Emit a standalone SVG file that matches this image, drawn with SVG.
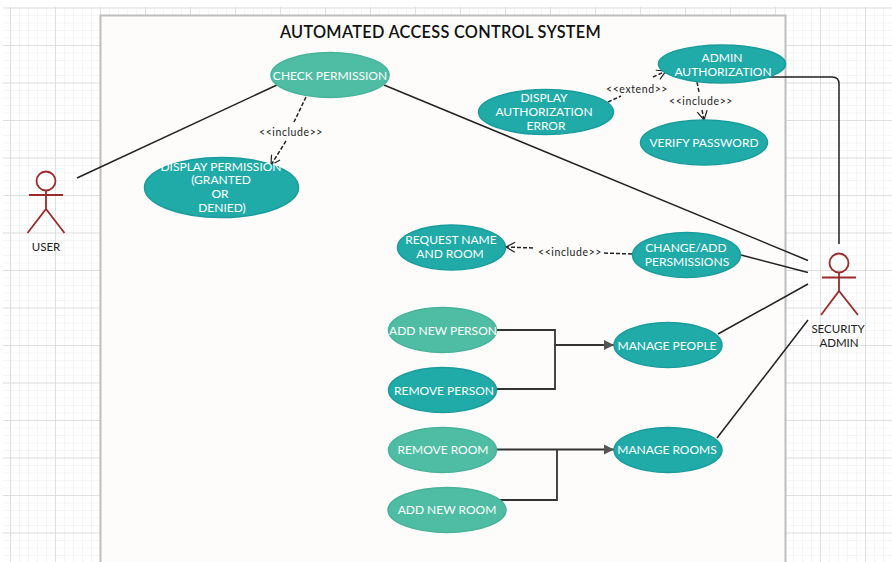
<svg xmlns="http://www.w3.org/2000/svg" width="892" height="562" viewBox="0 0 892 562">
<style>
text{font-family:Lato,"Open Sans","Liberation Sans",sans-serif;text-anchor:middle}
.l{fill:#4fbda3;stroke:#46b39a;stroke-width:1.5}
.d{fill:#20aba9;stroke:#1a9c9c;stroke-width:1.5}
.u{fill:#fff;font-size:12px}
.c{fill:none;stroke:#222;stroke-width:1.5}
.h{fill:none;stroke:#222;stroke-width:1.5;stroke-dasharray:4 2}
.e{fill:none;stroke:#333;stroke-width:1.8}
.a{fill:none;stroke:#9c2a2a;stroke-width:1.8}
.t{fill:#222;font-size:11.500px}
.s{fill:#222;font-size:10.500px;letter-spacing:.6px}
</style>
<defs>
<pattern id="minor" x="10" y="7.500" width="9" height="7.500" patternUnits="userSpaceOnUse"><path d="M0 0V7.500M0 0H9" fill="none" stroke="#ececec" stroke-width="1"/></pattern>
<pattern id="major" x="10" y="7.500" width="45" height="37.500" patternUnits="userSpaceOnUse"><path d="M0 0V37.500M0 0H45" fill="none" stroke="#d8d8d8" stroke-width="1.500"/></pattern>
<marker id="open" markerWidth="12" markerHeight="12" refX="10" refY="6" orient="auto" markerUnits="userSpaceOnUse"><path d="M1 1L10 6L1 11" fill="none" stroke="#222" stroke-width="1.200"/></marker>
<marker id="solid" markerWidth="11" markerHeight="12" refX="10" refY="6" orient="auto" markerUnits="userSpaceOnUse"><path d="M0 1L10 6L0 11Z" fill="#555"/></marker>
</defs>
<rect width="892" height="562" fill="#fff"/>
<rect x="3" y="7" width="889" height="555" fill="url(#minor)"/>
<rect x="3" y="7" width="889" height="555" fill="url(#major)"/>
<rect id="boundary" x="100.500" y="15.500" width="685" height="548" fill="#fdfcfb" stroke="#bdbdbd" stroke-width="2"/>
<text x="440.500" y="38" font-size="16.300" font-weight="600" letter-spacing=".3" fill="#111">AUTOMATED ACCESS CONTROL SYSTEM</text>
<g id="connectors">
<path class="c" d="M77 178L277 85"/>
<path class="c" d="M384 85L808 260.500"/>
<path class="c" d="M741 255L808 272.500"/>
<path class="c" d="M718 334L808 284"/>
<path class="c" d="M717 438L808 320"/>
<path class="c" d="M766 77H832Q839 77 839 84V244"/>
<path class="h" d="M306 97L294 122"/>
<path class="h" d="M286 141L271 165" marker-end="url(#open)"/>
<path class="h" d="M608 102L621 96"/>
<path class="h" d="M653 77L666 71" marker-end="url(#open)"/>
<path class="h" d="M697 82L699 92"/>
<path class="h" d="M702 110L704 120" marker-end="url(#open)"/>
<path class="h" d="M632 254L604 253"/>
<path class="h" d="M533 248L506 247" marker-end="url(#open)"/>
<path class="e" d="M497 330H555V389H497"/>
<path class="e" d="M555 345H614" marker-end="url(#solid)"/>
<path class="e" d="M497 449.500H614" marker-end="url(#solid)"/>
<path class="e" d="M557 450V500H499"/>
</g>
<g id="n-check"><ellipse class="l" cx="330" cy="75" rx="59" ry="22.500"/><text class="u" x="330" y="79.500">CHECK PERMISSION</text></g>
<g id="n-display"><ellipse class="d" cx="221.500" cy="187.500" rx="77" ry="30"/><text class="u" x="221" y="170.500">DISPLAY PERMISSION</text><text class="u" x="221" y="184">(GRANTED</text><text class="u" x="220" y="197.500">OR</text><text class="u" x="222" y="211.500">DENIED)</text></g>
<g id="n-admin"><ellipse class="d" cx="722" cy="64" rx="63.500" ry="19"/><text class="u" x="722" y="61.500">ADMIN</text><text class="u" x="723" y="75.500">AUTHORIZATION</text></g>
<g id="n-autherr"><ellipse class="d" cx="546" cy="112" rx="67.500" ry="22.500"/><text class="u" x="544" y="102">DISPLAY</text><text class="u" x="544" y="116">AUTHORIZATION</text><text class="u" x="546" y="130">ERROR</text></g>
<g id="n-verify"><ellipse class="d" cx="704" cy="142.500" rx="63.500" ry="22.500"/><text class="u" x="704" y="146.500">VERIFY PASSWORD</text></g>
<g id="n-request"><ellipse class="d" cx="451.500" cy="247.500" rx="54" ry="22.500"/><text class="u" x="451" y="243.500">REQUEST NAME</text><text class="u" x="450" y="257.500">AND ROOM</text></g>
<g id="n-change"><ellipse class="d" cx="686.500" cy="255" rx="54" ry="22.500"/><text class="u" x="686" y="251.500">CHANGE/ADD</text><text class="u" x="687" y="265.500">PERSMISSIONS</text></g>
<g id="n-addperson"><ellipse class="l" cx="442.500" cy="330" rx="54" ry="22.500"/><text class="u" x="443" y="334.500">ADD NEW PERSON</text></g>
<g id="n-removeperson"><ellipse class="d" cx="442.500" cy="390" rx="54" ry="22.500"/><text class="u" x="444" y="394.500">REMOVE PERSON</text></g>
<g id="n-removeroom"><ellipse class="l" cx="442.500" cy="450" rx="54" ry="22.500"/><text class="u" x="443" y="453.500">REMOVE ROOM</text></g>
<g id="n-addroom"><ellipse class="l" cx="447" cy="510" rx="59" ry="22.500"/><text class="u" x="447" y="513.500">ADD NEW ROOM</text></g>
<g id="n-people"><ellipse class="d" cx="668" cy="345" rx="54" ry="22.500"/><text class="u" x="667" y="349.500">MANAGE PEOPLE</text></g>
<g id="n-rooms"><ellipse class="d" cx="668" cy="450" rx="54" ry="22.500"/><text class="u" x="667" y="453.500">MANAGE ROOMS</text></g>
<g id="actor-user"><circle class="a" cx="46" cy="181" r="9.500"/><path class="a" d="M46 190.500V209M29 195H63M27.500 233L46 209L64.500 233"/><text class="t" x="46" y="251">USER</text></g>
<g id="actor-admin"><circle class="a" cx="839" cy="263" r="9.500"/><path class="a" d="M839 272.500V291M822 277.500H856M821 315L839 291L858 315"/><text class="t" x="838" y="333">SECURITY</text><text class="t" x="839" y="347">ADMIN</text></g>
<g id="labels">
<text class="s" x="291" y="136">&lt;&lt;include&gt;&gt;</text>
<text class="s" x="637" y="93">&lt;&lt;extend&gt;&gt;</text>
<text class="s" x="701" y="105">&lt;&lt;include&gt;&gt;</text>
<text class="s" x="570" y="256">&lt;&lt;include&gt;&gt;</text>
</g>
</svg>
